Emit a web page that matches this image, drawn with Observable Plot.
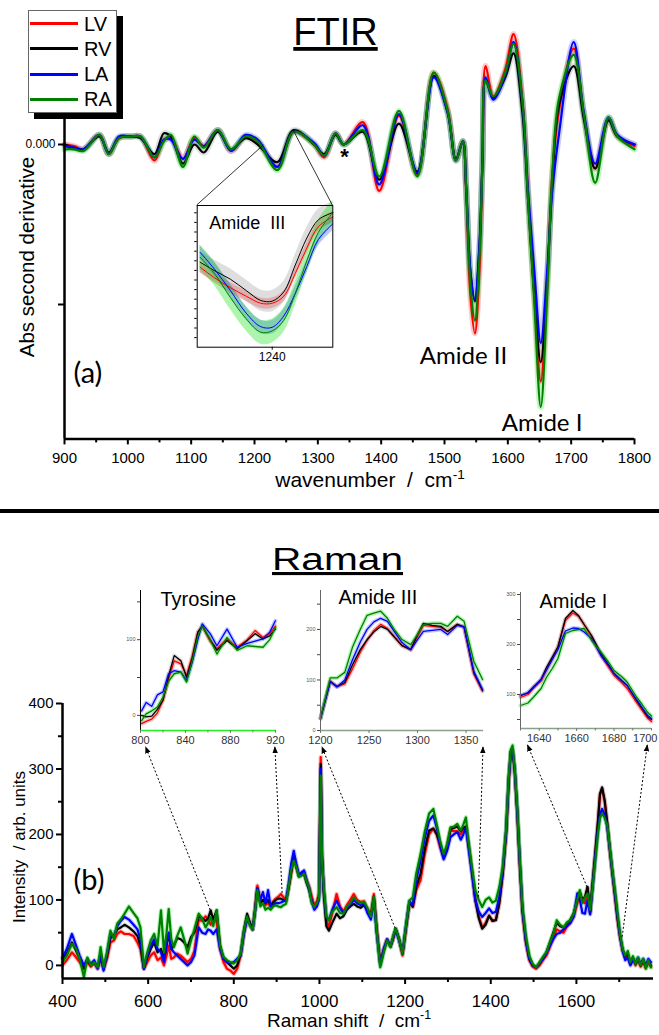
<!DOCTYPE html>
<html><head><meta charset="utf-8">
<script src="https://cdn.jsdelivr.net/npm/d3@7"></script>
<script src="https://cdn.jsdelivr.net/npm/@observablehq/plot@0.6"></script>
<style>
html,body{margin:0;padding:0;background:#fff;}
#page{position:relative;width:659px;height:1035px;overflow:hidden;font-family:"Liberation Sans",Arial,sans-serif;}
.abs{position:absolute;}
svg{display:block;}
</style></head><body><div id="page"></div>
<script>
// ---------- series ----------
const seriesNames = ["LV", "RV", "LA", "RA"];
const seriesColors = ["#ff0000", "#000000", "#0000ff", "#008000"];
const bandColors = ["#ff3030", "#888888", "#3050ff", "#00dd00"];

// ---------- FTIR (second derivative) ----------
const ftirWavenumber = [900, 915, 930, 955, 970, 986, 1005, 1020, 1042, 1057, 1068, 1087, 1105, 1120, 1142, 1163, 1186, 1205, 1236, 1262, 1294, 1310, 1328, 1341, 1371, 1397, 1428, 1457, 1483, 1505, 1518, 1529, 1534, 1541, 1548, 1555, 1560, 1565, 1577, 1596, 1609, 1623, 1632, 1642, 1652, 1662, 1670, 1681, 1704, 1720, 1738, 1759, 1773, 1800];
const ftirLV = [0.0, -0.01, -0.03, 0.06, -0.06, 0.04, 0.05, 0.05, -0.10, 0.03, 0.04, -0.09, 0.04, -0.01, 0.09, -0.04, 0.05, 0.02, -0.14, 0.08, 0.0, -0.08, 0.07, 0.0, 0.14, -0.29, 0.18, -0.19, 0.45, 0.22, -0.10, 0.02, -0.28, -0.95, -1.18, -0.8, -0.1, 0.49, 0.30, 0.47, 0.69, 0.28, -0.3, -0.95, -1.48, -0.9, -0.2, 0.22, 0.60, 0.19, -0.15, 0.16, 0.05, -0.01];
const ftirRV = [0.0, -0.02, -0.03, 0.05, -0.05, 0.04, 0.05, 0.04, -0.06, 0.07, 0.05, -0.12, 0.0, -0.05, 0.08, -0.03, 0.04, 0.0, -0.11, 0.09, 0.0, -0.06, 0.06, 0.0, 0.08, -0.22, 0.13, -0.17, 0.43, 0.2, -0.09, 0.02, -0.25, -0.8, -0.98, -0.65, -0.1, 0.40, 0.29, 0.42, 0.57, 0.2, -0.35, -0.95, -1.36, -0.85, -0.25, 0.25, 0.49, 0.16, -0.15, 0.15, 0.05, 0.0];
const ftirLA = [-0.01, -0.02, -0.03, 0.06, -0.06, 0.05, 0.05, 0.05, -0.08, 0.03, 0.03, -0.09, 0.03, -0.01, 0.09, -0.04, 0.06, 0.03, -0.14, 0.08, 0.01, -0.07, 0.07, 0.0, 0.12, -0.25, 0.19, -0.18, 0.42, 0.2, -0.1, 0.02, -0.25, -0.8, -0.97, -0.65, -0.1, 0.42, 0.28, 0.44, 0.64, 0.26, -0.3, -0.8, -1.24, -0.8, -0.3, 0.07, 0.64, 0.2, -0.12, 0.17, 0.06, 0.0];
const ftirRA = [-0.03, -0.03, -0.04, 0.06, -0.06, 0.04, 0.05, 0.05, -0.08, 0.02, 0.06, -0.14, 0.05, -0.02, 0.09, -0.03, 0.05, 0.02, -0.16, 0.08, 0.0, -0.07, 0.07, 0.0, 0.09, -0.2, 0.21, -0.2, 0.45, 0.21, -0.1, 0.02, -0.26, -0.88, -1.1, -0.72, -0.1, 0.40, 0.30, 0.45, 0.63, 0.27, -0.35, -1.0, -1.64, -0.95, -0.2, 0.29, 0.56, 0.19, -0.24, 0.17, 0.05, -0.03];
const ftirTicks = [900, 1000, 1100, 1200, 1300, 1400, 1500, 1600, 1700, 1800];
const ftirMinorTicks = [950, 1050, 1150, 1250, 1350, 1450, 1550, 1650, 1750];
const ftirYTicks = [0, -1];
const ftirNotes = [
  {x: 1530, y: -1.369, label: "Amide II"},
  {x: 1654, y: -1.7875, label: "Amide I"}
];
const ftirStar = [{x: 1342, y: -0.025, label: "*"}];

// FTIR inset (Amide III)
const ftirInsetWavenumber = [1215, 1220, 1225.5, 1231, 1236, 1240, 1244, 1248, 1252, 1256, 1261];
const ftirInsetLV = [8.34, 7.23, 6.2, 5.31, 4.58, 4.58, 5.31, 7.68, 10.33, 12.55, 13.58];
const ftirInsetRV = [8.86, 7.97, 7.08, 5.9, 4.87, 4.8, 5.76, 8.56, 11.37, 13.28, 14.02];
const ftirInsetLA = [9.89, 8.12, 5.9, 3.54, 2.14, 2.07, 3.25, 5.61, 8.41, 11.22, 12.84];
const ftirInsetRA = [9.37, 7.68, 5.17, 2.95, 1.56, 1.7, 2.8, 5.61, 9.0, 11.96, 14.02];
const ftirInsetSpread = [0.55, 1.1, 0.7, 1.25];
const ftirInsetYTicks = [1, 2, 3, 4, 5, 6, 7, 8, 9, 10, 11, 12, 13, 14];

// ---------- Raman ----------
const ramanShift = [
 400, 410, 422, 432, 440, 450, 458, 466, 474, 482,
 489, 496, 504, 512, 520, 528, 536, 545, 555, 566,
 575, 582, 590, 598, 606, 614, 622, 630, 637, 643,
 648, 654, 660, 668, 676, 684, 692, 700, 708, 718,
 726, 734, 740, 746, 752, 760, 768, 776, 784, 792,
 800, 808, 816, 824, 831, 838, 844, 850, 855, 862,
 868, 874, 880, 886, 892, 898, 904, 910, 916, 922,
 928, 934, 940, 946, 952, 958, 964, 970, 976, 982,
 988, 994, 999, 1003, 1006, 1010, 1016, 1022, 1030, 1040,
 1048, 1056, 1064, 1072, 1080, 1088, 1096, 1104, 1112, 1120,
 1127, 1134, 1142, 1150, 1158, 1166, 1172, 1178, 1186, 1194,
 1202, 1210, 1218, 1226, 1236, 1246, 1256, 1266, 1274, 1282,
 1290, 1298, 1306, 1314, 1322, 1330, 1336, 1342, 1348, 1356,
 1364, 1372, 1380, 1388, 1396, 1404, 1412, 1420, 1428, 1436,
 1442, 1447, 1451, 1456, 1462, 1468, 1474, 1482, 1490, 1498,
 1506, 1514, 1522, 1530, 1538, 1546, 1554, 1562, 1570, 1578,
 1586, 1594, 1602, 1608, 1614, 1620, 1626, 1632, 1638, 1644,
 1650, 1655, 1660, 1666, 1672, 1678, 1684, 1690, 1696, 1702,
 1708, 1714, 1720, 1726, 1732, 1738, 1744, 1750, 1756, 1762,
 1768, 1774];
const ramanLV = [
 0, 8, 20, 12, 5, -5, 5, -2, 3, -5,
 10, -5, 10, 35, 38, 48, 52, 48, 48, 45,
 35, 25, -5, 5, 15, 20, 8, 12, 0, 15,
 30, 10, 12, 18, 15, 10, 5, 10, 22, 70,
 68, 75, 70, 62, 72, 66, 25, 5, -5, -8,
 -13, -5, 15, 50, 72, 62, 55, 90, 122, 98,
 100, 92, 95, 90, 98, 102, 105, 109, 104, 100,
 118, 140, 165, 152, 138, 140, 143, 130, 120, 105,
 92, 98, 110, 318, 170, 115, 70, 58, 80, 109,
 90, 82, 92, 100, 109, 100, 97, 98, 86, 78,
 109, 55, 5, 25, 40, 30, 40, 55, 40, 15,
 55, 95, 89, 115, 130, 170, 200, 209, 200, 180,
 165, 180, 206, 205, 205, 200, 208, 211, 185, 145,
 100, 75, 58, 65, 76, 68, 70, 95, 140, 200,
 280, 325, 328, 295, 230, 150, 80, 35, 8, -2,
 -5, 0, 8, 15, 28, 42, 55, 52, 50, 60,
 65, 75, 95, 110, 100, 95, 118, 80, 125, 170,
 215, 260, 270, 250, 215, 175, 140, 105, 70, 42,
 22, 12, 15, 3, 10, 0, 8, -2, 6, -4,
 4, -2];
const ramanRV = [
 10, 18, 35, 22, 10, -5, 8, 0, 5, -3,
 15, -3, 15, 42, 45, 55, 58, 62, 58, 52,
 45, 30, -5, 12, 25, 35, 20, 25, 10, 30,
 48, 25, 30, 42, 40, 35, 28, 43, 50, 75,
 72, 68, 72, 84, 70, 84, 30, 10, 5, 0,
 -5, 0, 18, 55, 79, 65, 55, 85, 118, 95,
 100, 95, 100, 92, 96, 100, 102, 102, 100, 98,
 118, 142, 165, 150, 136, 138, 140, 126, 115, 98,
 88, 93, 105, 308, 165, 110, 60, 53, 65, 79,
 72, 75, 85, 90, 94, 90, 88, 92, 85, 75,
 105, 50, 0, 22, 38, 28, 42, 56, 40, 18,
 58, 97, 90, 120, 140, 178, 206, 209, 200, 185,
 165, 182, 208, 210, 212, 205, 210, 212, 185, 145,
 100, 72, 56, 62, 76, 68, 69, 95, 140, 205,
 285, 328, 330, 298, 235, 155, 85, 38, 10, 0,
 -3, 3, 12, 20, 35, 50, 65, 60, 58, 62,
 70, 80, 100, 112, 100, 105, 120, 82, 128, 172,
 218, 262, 272, 252, 218, 178, 142, 108, 72, 44,
 24, 14, 18, 4, 12, 2, 10, 0, 8, -3,
 6, 0];
const ramanLA = [
 12, 25, 48, 30, 15, 0, 10, 2, 8, -5,
 12, -8, 18, 48, 45, 60, 68, 74, 70, 62,
 55, 40, -5, 15, 30, 40, 25, 20, 5, 35,
 50, 25, 20, 15, 10, 5, 0, 5, 15, 58,
 50, 48, 55, 53, 48, 55, 25, 10, 5, 3,
 5, 10, 15, 50, 70, 62, 55, 85, 118, 100,
 112, 95, 115, 90, 92, 95, 95, 96, 98, 100,
 125, 155, 175, 155, 138, 142, 145, 130, 118, 98,
 85, 90, 100, 300, 165, 115, 75, 69, 85, 99,
 88, 80, 88, 92, 100, 95, 92, 95, 80, 70,
 100, 50, 2, 25, 40, 30, 42, 55, 38, 20,
 60, 98, 92, 130, 160, 195, 221, 229, 210, 182,
 162, 175, 196, 200, 204, 192, 200, 211, 180, 140,
 100, 82, 74, 80, 87, 80, 82, 105, 145, 205,
 285, 326, 328, 298, 235, 155, 85, 38, 10, 0,
 -3, 3, 10, 18, 30, 40, 48, 50, 55, 60,
 65, 75, 110, 100, 80, 79, 100, 78, 120, 165,
 205, 230, 239, 230, 212, 178, 142, 110, 75, 45,
 22, 8, 12, 0, 8, 5, 12, 2, 10, 0,
 10, 5];
const ramanRA = [
 5, 15, 33, 25, 10, -18, 12, 0, 5, -3,
 28, -3, 20, 53, 40, 64, 70, 79, 90, 80,
 72, 58, -3, 20, 38, 48, 30, 84, 20, 50,
 86, 40, 28, 45, 58, 40, 18, 38, 55, 79,
 72, 58, 65, 74, 60, 84, 30, 13, 8, 5,
 3, 8, 18, 55, 75, 60, 55, 85, 115, 90,
 95, 85, 88, 85, 90, 92, 90, 89, 92, 94,
 120, 145, 160, 150, 135, 137, 140, 128, 118, 95,
 89, 95, 104, 290, 160, 120, 75, 69, 82, 89,
 80, 79, 90, 95, 104, 98, 95, 97, 88, 74,
 105, 50, -3, 20, 38, 28, 45, 56, 40, 18,
 60, 99, 104, 140, 170, 205, 232, 239, 215, 190,
 170, 185, 211, 212, 216, 206, 215, 226, 190, 150,
 115, 100, 89, 100, 104, 96, 99, 120, 150, 210,
 290, 330, 336, 300, 240, 160, 90, 45, 15, 2,
 -3, 5, 13, 20, 35, 48, 69, 62, 58, 66,
 69, 80, 100, 115, 95, 104, 110, 85, 120, 160,
 200, 225, 232, 225, 215, 180, 145, 115, 80, 48,
 25, 15, 22, 5, 14, 2, 12, 0, 10, -5,
 8, -3];
const ramanTicks = [400, 600, 800, 1000, 1200, 1400, 1600];
const ramanMinorTicks = [500, 700, 900, 1100, 1300, 1500, 1700];
const intensityTicks = [0, 100, 200, 300, 400];
const intensityMinorTicks = [50, 150, 250, 350];

// Tyrosine inset
const tyrShift = [801, 805, 810, 815, 820, 825, 830, 836, 841, 846, 851, 855, 862, 868, 877, 886, 895, 902, 909, 915, 920];
const tyrLV = [-11, -8, -5, 3, 20, 48, 72, 68, 53, 78, 110, 118, 98, 88, 101, 90, 100, 112, 103, 108, 118];
const tyrRV = [0, -2, -1, 8, 20, 52, 79, 72, 50, 75, 110, 118, 100, 86, 99, 88, 99, 108, 101, 105, 114];
const tyrLA = [6, 17, 12, 27, 31, 55, 59, 57, 46, 70, 100, 121, 108, 92, 114, 90, 95, 98, 101, 110, 125];
const tyrRA = [-7, 2, 6, 11, 24, 45, 55, 57, 44, 72, 105, 118, 100, 81, 103, 86, 92, 91, 90, 100, 116];
const tyrTicks = [800, 840, 880, 920];
const tyrYTicks = [0, 50, 100, 150];

// Amide III inset
const am3Shift = [1200, 1210, 1217, 1225, 1233, 1241, 1248, 1255, 1262, 1269, 1276, 1284, 1293, 1300, 1306, 1315, 1324, 1331, 1341, 1348, 1358, 1367];
const am3LV = [24, 97, 87, 92, 122, 155, 178, 198, 210, 202, 186, 168, 160, 186, 208, 206, 204, 196, 210, 204, 112, 78];
const am3RV = [24, 97, 87, 95, 130, 160, 180, 195, 206, 200, 185, 168, 160, 190, 212, 208, 206, 196, 210, 205, 115, 79];
const am3LA = [24, 97, 86, 100, 140, 175, 200, 215, 222, 216, 196, 174, 160, 180, 196, 198, 200, 190, 208, 205, 117, 81];
const am3RA = [24, 104, 104, 115, 165, 200, 228, 232, 236, 222, 200, 180, 170, 190, 210, 212, 212, 206, 226, 216, 137, 101];
const am3Ticks = [1200, 1250, 1300, 1350];
const am3YTicks = [0, 50, 100, 150, 200, 250];

// Amide I inset
const am1Shift = [1630, 1634, 1637, 1641, 1644, 1647, 1650, 1654, 1658, 1661, 1664, 1668, 1673, 1677, 1680, 1684, 1687, 1692, 1695, 1698, 1700];
const am1LV = [94, 100, 113, 127, 150, 172, 195, 248, 263, 256, 240, 215, 178, 155, 138, 124, 112, 84, 68, 52, 46];
const am1RV = [98, 103, 115, 130, 155, 175, 195, 252, 268, 258, 240, 218, 182, 160, 142, 128, 118, 88, 72, 55, 50];
const am1LA = [98, 104, 115, 130, 150, 170, 190, 227, 233, 232, 225, 212, 178, 158, 142, 128, 118, 90, 74, 58, 52];
const am1RA = [78, 83, 95, 112, 135, 152, 172, 222, 228, 230, 232, 208, 185, 165, 148, 136, 125, 95, 80, 64, 57];
const am1Ticks = [1640, 1660, 1680];
const am1EdgeTick = [1700];
const am1MinorTicks = [1630, 1650, 1670, 1690, 1700];
const am1YTicks = [50, 100, 150, 200, 250, 300];

// zoom links (annotation anchors)
const ftirZoomFrom = [{x: 1215, y: -0.005}, {x: 1262, y: 0.085}];
const ramanLinks = [
  {x: 746, y: 84, inset: 0, to: 805},
  {x: 914, y: 110, inset: 0, to: 920},
  {x: 1178, y: 56, inset: 1, to: 1202},
  {x: 1372, y: 104, inset: 1, to: 1368},
  {x: 1626, y: 119, inset: 2, to: 1634},
  {x: 1708, y: 43, inset: 2, to: 1698}
];

// ---------- helpers ----------
const page = document.getElementById("page");
const SANS = "Liberation Sans, Arial, sans-serif";
const rows = (xs, ys) => xs.map((x, i) => ({x, y: ys[i]}));
function place(svg, left, top, w) {
  const d = document.createElement("div");
  d.className = "abs";
  d.style.left = left + "px"; d.style.top = top + "px"; d.style.width = w + "px";
  svg.style.maxWidth = "none";
  d.appendChild(svg); page.appendChild(d);
  return svg;
}
function lineMarks(xs, all, opts) {
  const m = [];
  all.forEach((ys, i) => m.push(Plot.line(rows(xs, ys), {x: "x", y: "y", stroke: bandColors[i], strokeWidth: opts.band, strokeOpacity: opts.bandOpacity, curve: opts.curve})));
  all.forEach((ys, i) => m.push(Plot.line(rows(xs, ys), {x: "x", y: "y", stroke: seriesColors[i], strokeWidth: opts.width, curve: opts.curve})));
  return m;
}
const blank = () => "";

// ---------- FTIR main ----------
const ftirX = [900, 1800], ftirY = [-1.84, 0.75];
const ftirPlot = place(Plot.plot({
  width: 659, height: 500, marginLeft: 64, marginRight: 25, marginTop: 24, marginBottom: 61.6,
  x: {domain: ftirX}, y: {domain: ftirY},
  style: {fontFamily: SANS, background: "transparent", overflow: "visible", color: "#000"},
  marks: [
    ...lineMarks(ftirWavenumber, [ftirLV, ftirRV, ftirLA, ftirRA], {band: 6, bandOpacity: 0.25, width: 2.2, curve: "catmull-rom"}),
    Plot.ruleX([ftirX[0]], {strokeWidth: 2.5}),
    Plot.ruleY([ftirY[0]], {strokeWidth: 2.5}),
    Plot.axisX(ftirTicks, {tickSize: 6, tickPadding: 7, fontSize: 15, strokeWidth: 2, label: null, tickFormat: d3.format("d")}),
    Plot.axisX(ftirMinorTicks, {tickSize: 4, strokeWidth: 2, label: null, tickFormat: blank}),
    Plot.axisY(ftirYTicks, {tickSize: 6, tickPadding: 3, fontSize: 12, strokeWidth: 2, label: null, tickFormat: d => d === 0 ? "0.000" : ""}),
    Plot.text(ftirNotes, {x: "x", y: "y", text: "label", fontSize: 24, fontFamily: "Lato", lineAnchor: "bottom"}),
    Plot.text(ftirStar, {x: "x", y: "y", text: "label", fontSize: 22, fontWeight: "bold", lineAnchor: "top"}),
    Plot.text(["(a)"], {frameAnchor: "bottom-left", dx: 9, dy: -56, fontSize: 29, fontFamily: "Lato", textAnchor: "start", lineAnchor: "bottom"})
  ]
}), 0, 0, 659);

// ---------- FTIR inset ----------
const ftirInsetX = [1214, 1261], ftirInsetY = [0, 14.76];
const ftirInsetSeries = [ftirInsetLV, ftirInsetRV, ftirInsetLA, ftirInsetRA];
const ftirInsetLeft = 160, ftirInsetTop = 195;
const ftirInset = place(Plot.plot({
  width: 185, height: 175, marginLeft: 36.7, marginRight: 12.7, marginTop: 10, marginBottom: 23.3,
  x: {domain: ftirInsetX}, y: {domain: ftirInsetY},
  style: {fontFamily: SANS, background: "transparent", overflow: "visible"},
  marks: [
    Plot.frame({fill: "white", stroke: null}),
    ...ftirInsetSeries.map((ys, i) => Plot.areaY(ftirInsetWavenumber.map((x, j) => ({x, y1: ys[j] - ftirInsetSpread[i], y2: ys[j] + ftirInsetSpread[i]})),
      {x: "x", y1: "y1", y2: "y2", fill: bandColors[i], fillOpacity: i === 1 ? 0.28 : 0.32, curve: "catmull-rom"})),
    ...ftirInsetSeries.map((ys, i) => Plot.line(rows(ftirInsetWavenumber, ys), {x: "x", y: "y", stroke: seriesColors[i], strokeWidth: 1, curve: "catmull-rom"})),
    Plot.frame({stroke: "#000", strokeWidth: 1}),
    Plot.axisY(ftirInsetYTicks, {tickSize: 2.5, label: null, tickFormat: blank}),
    Plot.axisX([1240], {tickSize: 3, tickPadding: 2, fontSize: 12, label: null, tickFormat: d3.format("d")}),
    Plot.text(["Amide\u00a0 III"], {frameAnchor: "top-left", dx: 12, dy: 23, lineAnchor: "bottom", textAnchor: "start", fontSize: 18})
  ]
}), ftirInsetLeft, ftirInsetTop, 185);

// ---------- Raman main ----------
const ramanX = [400, 1780], ramanY = [-20, 400];
const ramanTop = 690;
const ramanPlot = place(Plot.plot({
  width: 659, height: 345, marginLeft: 62, marginRight: 6, marginTop: 13, marginBottom: 57,
  x: {domain: ramanX}, y: {domain: ramanY},
  style: {fontFamily: SANS, background: "transparent", overflow: "visible"},
  marks: [
    ...lineMarks(ramanShift, [ramanLV, ramanRV, ramanLA, ramanRA], {band: 4.5, bandOpacity: 0.3, width: 2.2, curve: "linear"}),
    Plot.ruleX([ramanX[0]], {strokeWidth: 2.5}),
    Plot.ruleY([ramanY[0]], {strokeWidth: 2.5}),
    Plot.axisX(ramanTicks, {tickSize: 6, tickPadding: 10, fontSize: 17, strokeWidth: 2, label: null, tickFormat: d3.format("d")}),
    Plot.axisX(ramanMinorTicks, {tickSize: 4, strokeWidth: 2, label: null, tickFormat: blank}),
    Plot.axisY(intensityTicks, {tickSize: 6, tickPadding: 3, fontSize: 15, strokeWidth: 2, label: null, tickFormat: d3.format("d")}),
    Plot.axisY(intensityMinorTicks, {tickSize: 4, strokeWidth: 2, label: null, tickFormat: blank}),
    Plot.text(["(b)"], {frameAnchor: "bottom-left", dx: 11, dy: -89, fontSize: 29, fontFamily: "Lato", textAnchor: "start", lineAnchor: "bottom"})
  ]
}), 0, ramanTop, 659);

// ---------- Raman insets ----------
function insetPlot(cfg) {
  const series = cfg.series;
  return Plot.plot({
    width: cfg.width, height: cfg.height, marginLeft: 30, marginRight: cfg.mr, marginTop: 10, marginBottom: 25,
    x: {domain: cfg.xd}, y: {domain: cfg.yd},
    style: {fontFamily: SANS, background: "transparent", overflow: "visible"},
    marks: [
      ...series.map((ys, i) => Plot.line(rows(cfg.xs, ys), {x: "x", y: "y", stroke: bandColors[i], strokeWidth: 4, strokeOpacity: 0.3})),
      ...series.map((ys, i) => Plot.line(rows(cfg.xs, ys), {x: "x", y: "y", stroke: seriesColors[i], strokeWidth: 1.3})),
      Plot.ruleX([cfg.xd[0]], {stroke: cfg.leftColor, strokeWidth: 1}),
      Plot.ruleY([cfg.yd[0]], {stroke: cfg.bottomColor, strokeWidth: 1.5}),
      Plot.axisY(cfg.yticks, {tickSize: 3, tickPadding: 2, fontSize: 5.5, stroke: "#444", fill: "#555", label: null, tickFormat: d => d % 100 === 0 ? String(d) : ""}),
      Plot.axisX(cfg.xticks, {tickSize: 3, tickPadding: 3, fontSize: 11, stroke: "#777", fill: "#333", label: null, tickFormat: d3.format("d")}),
      ...(cfg.minor ? [Plot.axisX(cfg.minor, {tickSize: 2.5, stroke: "#777", label: null, tickFormat: blank})] : []),
      ...(cfg.edge ? [Plot.text(cfg.edge, {x: d => d, text: d => String(d), frameAnchor: "bottom", dy: 6, dx: 6, lineAnchor: "top", textAnchor: "end", fontSize: 11, fill: "#333"})] : []),
      Plot.text([cfg.title], {frameAnchor: "top-left", dx: cfg.tdx, dy: cfg.tdy, lineAnchor: "bottom", textAnchor: "start", fontSize: 20})
    ]
  });
}
const insetBoxes = [
  {left: 110, top: 580, width: 180, height: 175, mr: 14, xd: [800, 921], yd: [-20, 165], xs: tyrShift, series: [tyrLV, tyrRV, tyrLA, tyrRA],
   xticks: tyrTicks, yticks: tyrYTicks, minor: [820, 860, 900], edge: null, leftColor: "#000", bottomColor: "#22ee22", title: "Tyrosine", tdx: 20, tdy: 15},
  {left: 290, top: 580, width: 200, height: 175, mr: 7, xd: [1200, 1368], yd: [0, 277], xs: am3Shift, series: [am3LV, am3RV, am3LA, am3RA],
   xticks: am3Ticks, yticks: am3YTicks, minor: null, edge: null, leftColor: "#666", bottomColor: "#8aa08a", title: "Amide III", tdx: 18, tdy: 13},
  {left: 490, top: 582, width: 169, height: 171, mr: 8, xd: [1630, 1700], yd: [32, 304], xs: am1Shift, series: [am1LV, am1RV, am1LA, am1RA],
   xticks: am1Ticks, yticks: am1YTicks, minor: am1MinorTicks, edge: am1EdgeTick, leftColor: "#666", bottomColor: "#8aa08a", title: "Amide I", tdx: 19, tdy: 15}
];
const insetPlots = insetBoxes.map(cfg => place(insetPlot(cfg), cfg.left, cfg.top, cfg.width));

// ---------- overlay (titles, axis titles, connectors) ----------
const ov = d3.create("svg").attr("width", 659).attr("height", 1035)
  .style("position", "absolute").style("left", "0px").style("top", "0px")
  .attr("font-family", SANS);
ov.append("defs").append("marker").attr("id", "ah").attr("viewBox", "0 0 10 10")
  .attr("refX", 9).attr("refY", 5).attr("markerWidth", 7).attr("markerHeight", 7).attr("orient", "auto")
  .append("path").attr("d", "M0,1L10,5L0,9Z").attr("fill", "#000");

// separator
ov.append("line").attr("x1", 0).attr("x2", 659).attr("y1", 511).attr("y2", 511).attr("stroke", "#000").attr("stroke-width", 4);
// titles
ov.append("text").attr("x", 335.5).attr("y", 45).attr("text-anchor", "middle").attr("font-size", 38)
  .attr("text-decoration", "underline").text("FTIR");
ov.append("text").attr("x", 337.5).attr("y", 570).attr("text-anchor", "middle").attr("font-size", 31)
  .attr("textLength", 131).attr("lengthAdjust", "spacingAndGlyphs").attr("text-decoration", "underline").text("Raman");
// axis titles
function xTitle(x, y, size, main) {
  const t = ov.append("text").attr("x", x).attr("y", y).attr("text-anchor", "middle").attr("font-size", size).style("white-space", "pre");
  t.append("tspan").text(main);
  t.append("tspan").attr("dy", -size * 0.4).attr("font-size", size * 0.65).text("-1");
}
xTitle(370, 487, 21, "wavenumber  /  cm");
xTitle(349, 1027, 19, "Raman shift  /  cm");
ov.append("text").attr("transform", "translate(34,257) rotate(-90)").attr("text-anchor", "middle").attr("font-size", 20.5).text("Abs second derivative");
ov.append("text").attr("transform", "translate(24.5,847) rotate(-90)").attr("text-anchor", "middle").attr("font-size", 17)
  .style("white-space", "pre").text("Intensity  / arb. units");

// FTIR zoom connectors (solid)
const fx = ftirPlot.scale("x"), fy = ftirPlot.scale("y");
const ix = ftirInset.scale("x"), iy = ftirInset.scale("y");
ftirZoomFrom.forEach((p, k) => {
  ov.append("line")
    .attr("x1", fx.apply(p.x)).attr("y1", fy.apply(p.y))
    .attr("x2", ftirInsetLeft + ix.apply(ftirInsetX[k])).attr("y2", ftirInsetTop + iy.apply(ftirInsetY[1]))
    .attr("stroke", "#000").attr("stroke-width", 0.8);
});

// Raman dotted arrows
const rxs = ramanPlot.scale("x"), rys = ramanPlot.scale("y");
ramanLinks.forEach(l => {
  const box = insetBoxes[l.inset], p = insetPlots[l.inset];
  const x2 = box.left + p.scale("x").apply(l.to);
  const y2 = box.top + p.scale("y").apply(box.yd[0]) + 17;
  ov.append("line")
    .attr("x1", rxs.apply(l.x)).attr("y1", ramanTop + rys.apply(l.y))
    .attr("x2", x2).attr("y2", y2)
    .attr("stroke", "#000").attr("stroke-width", 1).attr("stroke-dasharray", "2,2")
    .attr("marker-end", "url(#ah)");
});
page.appendChild(ov.node());

// ---------- legend ----------
const lg = document.createElement("div");
lg.style.cssText = "position:absolute;left:28px;top:10px;width:89px;height:103px;box-sizing:border-box;border:1.5px solid #666;background:#fff;box-shadow:6px 6px 0 #000;";
seriesNames.forEach((n, i) => {
  const cy = 12.5 + i * 25.3;
  const sw = document.createElement("div");
  sw.style.cssText = `position:absolute;left:1px;top:${cy - 1.5}px;width:48px;height:3px;background:${seriesColors[i]};`;
  const tx = document.createElement("div");
  tx.style.cssText = `position:absolute;left:55px;top:${cy - 12}px;font:20px/24px ${SANS};color:#000;`;
  tx.textContent = n;
  lg.appendChild(sw); lg.appendChild(tx);
});
page.appendChild(lg);
</script></body></html>
